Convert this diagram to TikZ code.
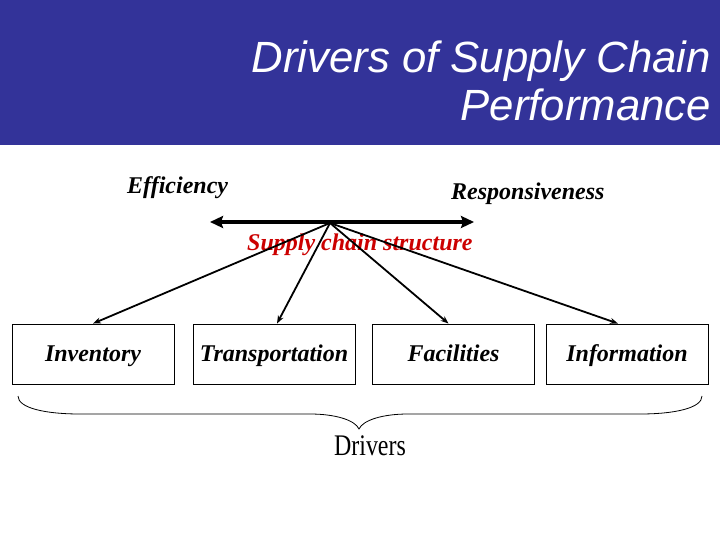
\documentclass[tikz,border=0pt]{standalone}
\usepackage{fontspec}
\setmainfont{Liberation Serif}
\newfontfamily\titlefont{Liberation Sans}
\usetikzlibrary{arrows.meta}
\definecolor{bandblue}{RGB}{51,51,153}
\definecolor{scred}{RGB}{204,0,0}
\tikzset{
  lbl/.style={inner sep=0pt,font=\fontsize{24}{28}\selectfont\bfseries\itshape},
  driverbox/.style={draw=black,line width=0.9pt,minimum width=162pt,minimum height=60pt,inner sep=0pt,text height=17pt,text depth=3pt,font=\fontsize{24}{28}\selectfont\bfseries\itshape},
  thinarrow/.style={line width=1.8pt,-{Stealth[length=8pt,width=6pt]}},
  bigarrow/.style={line width=3.6pt,{Stealth[length=13pt,width=12pt,inset=2pt]}-{Stealth[length=13pt,width=12pt,inset=2pt]}},
}
\begin{document}
\begin{tikzpicture}[x=1pt,y=-1pt]
\useasboundingbox (0,0) rectangle (720,540);
\fill[bandblue] (0,0) rectangle (720,145);
\node[anchor=base east,inner sep=0pt,text=white,font=\titlefont\fontsize{43.7}{48}\selectfont\itshape] (t1) at (711,73) {Drivers of Supply Chain};
\node[anchor=base east,inner sep=0pt,text=white,font=\titlefont\fontsize{43.7}{48}\selectfont\itshape] (t2) at (711,121) {Performance};

\node[lbl,anchor=base west] (eff) at (127,194) {Efficiency};
\node[lbl,anchor=base west] (resp) at (451,200) {Responsiveness};

\coordinate (aL) at (210,222);
\coordinate (aR) at (474,222);
\coordinate (hub) at (330,223);
\draw[bigarrow] (aL) -- (aR);

\node[lbl,anchor=base west,text=scred] (scs) at (247,251) {Supply chain structure};

\node[driverbox] (inv) at (93,354) {Inventory};
\node[driverbox] (tra) at (274,354) {Transportation};
\node[driverbox] (fac) at (453.5,354) {Facilities};
\node[driverbox] (inf) at (627,354) {Information};

\draw[thinarrow] (hub) -- (inv.north);
\draw[thinarrow] (hub) -- ([xshift=3pt]tra.north);
\draw[thinarrow] (hub) -- ([xshift=-5pt]fac.north);
\draw[thinarrow] (hub) -- ([xshift=-9pt]inf.north);

\coordinate (bl) at (18,396);
\coordinate (br) at (702,396);
\coordinate (tip) at (359,429);
\draw[line width=0.8pt] (bl) .. controls (18,408) and (45,414) .. (80,414)
  -- (310,414) .. controls (335,414) and (355,420) .. (tip)
  .. controls (363,420) and (383,414) .. (408,414)
  -- (640,414) .. controls (675,414) and (702,408) .. (br);

\node[anchor=base,inner sep=0pt,font=\fontsize{26}{30}\selectfont] (drv) at (370,455) {\scalebox{0.92}[1.15]{Drivers}};
\end{tikzpicture}
\end{document}
